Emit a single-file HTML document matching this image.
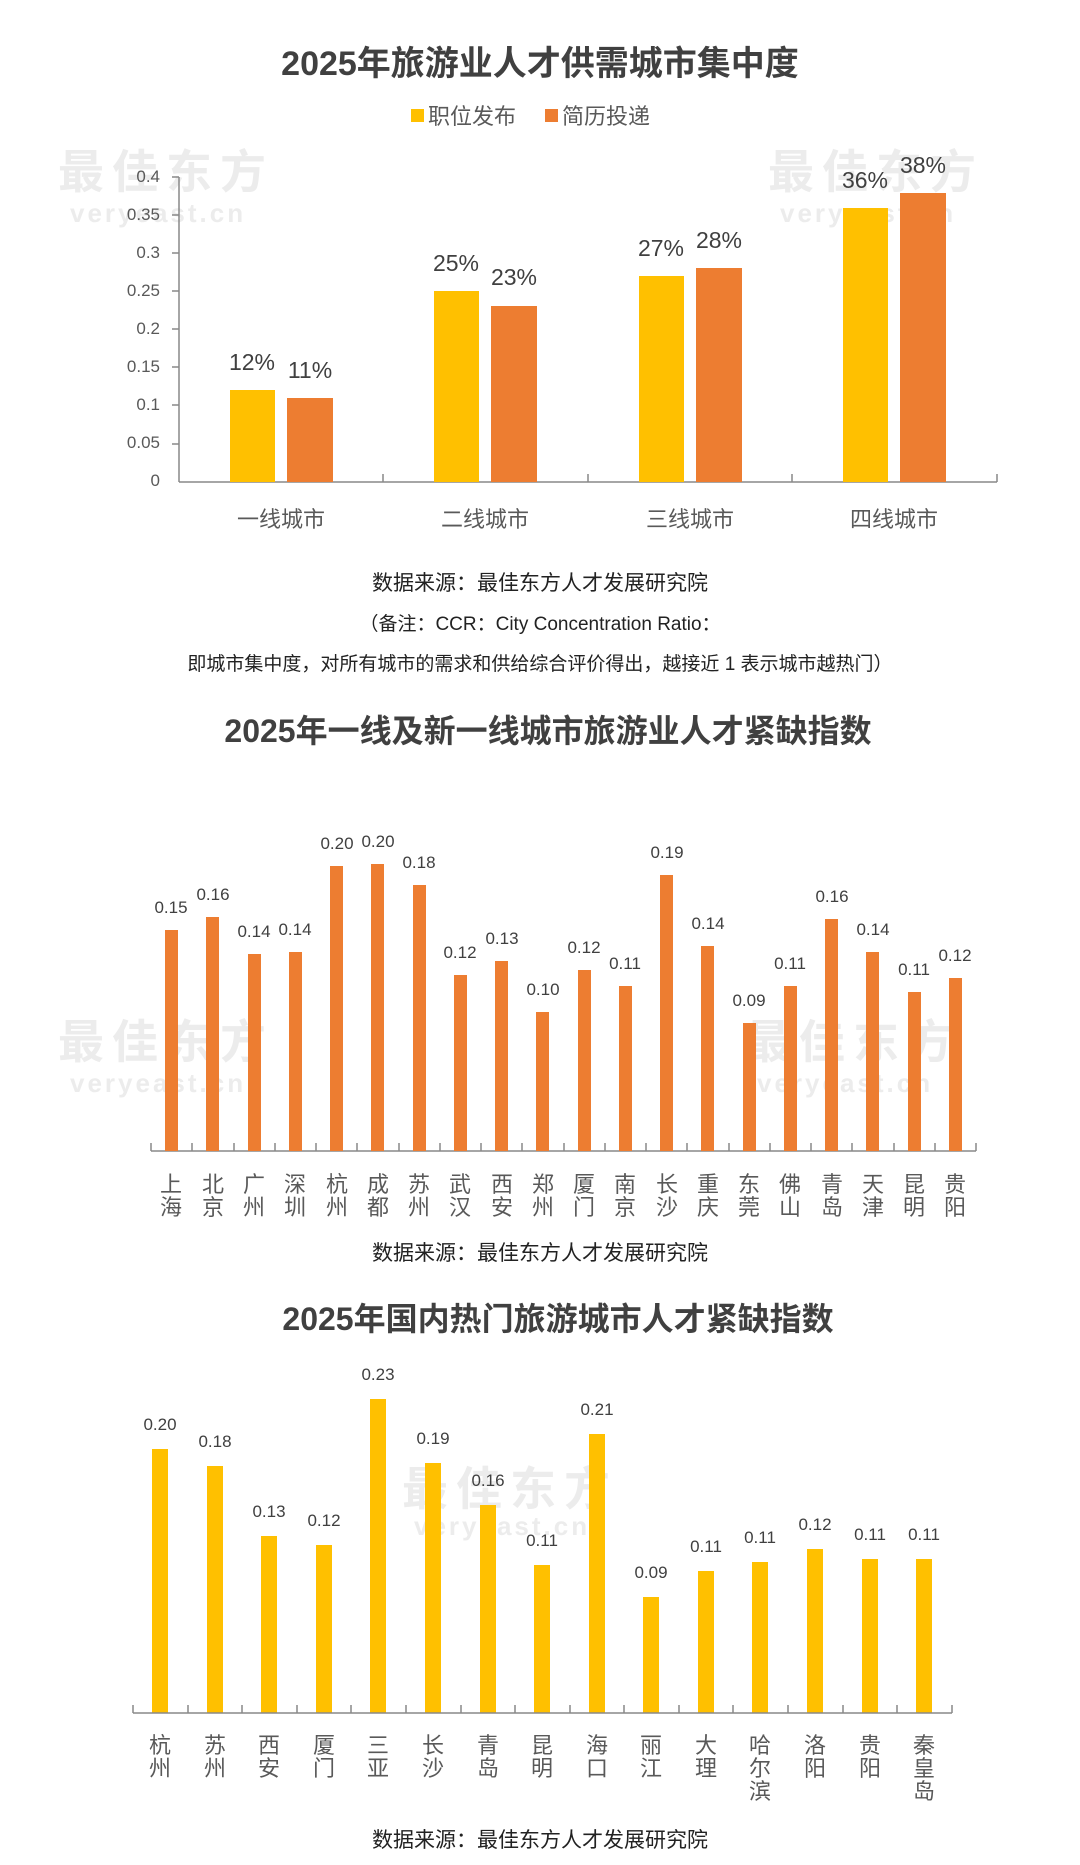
<!DOCTYPE html>
<html><head><meta charset="utf-8"><style>
html,body{margin:0;padding:0;background:#fff;}
svg{display:block;}
text{font-family:"Liberation Sans","Noto Sans CJK SC",sans-serif;}
</style></head><body>
<svg width="1080" height="1865" viewBox="0 0 1080 1865" xmlns="http://www.w3.org/2000/svg">
<!-- watermarks -->
<g fill="#ececec" font-weight="bold">
<text x="58" y="188" font-size="46" letter-spacing="8">最佳东方</text>
<text x="70" y="222" font-size="26" letter-spacing="3">veryeast.cn</text>
<text x="768" y="188" font-size="46" letter-spacing="8">最佳东方</text>
<text x="780" y="222" font-size="26" letter-spacing="3">veryeast.cn</text>
<text x="58" y="1058" font-size="46" letter-spacing="8">最佳东方</text>
<text x="70" y="1092" font-size="26" letter-spacing="3">veryeast.cn</text>
<text x="745" y="1058" font-size="46" letter-spacing="8">最佳东方</text>
<text x="757" y="1092" font-size="26" letter-spacing="3">veryeast.cn</text>
<text x="402" y="1505" font-size="46" letter-spacing="8">最佳东方</text>
<text x="414" y="1535" font-size="26" letter-spacing="3">veryeast.cn</text>
</g>

<!-- Chart 1 -->
<text x="540" y="75" text-anchor="middle" font-size="34" font-weight="bold" fill="#404040">2025年旅游业人才供需城市集中度</text>
<rect x="411" y="109" width="13" height="13" fill="#FFC000"/>
<text x="428" y="124" font-size="22" fill="#595959">职位发布</text>
<rect x="545" y="109" width="13" height="13" fill="#ED7D31"/>
<text x="562" y="124" font-size="22" fill="#595959">简历投递</text>
<g font-size="17" fill="#595959" text-anchor="end">
<text x="160" y="486">0</text><text x="160" y="448">0.05</text><text x="160" y="410">0.1</text>
<text x="160" y="372">0.15</text><text x="160" y="334">0.2</text><text x="160" y="296">0.25</text>
<text x="160" y="258">0.3</text><text x="160" y="220">0.35</text><text x="160" y="182">0.4</text>
</g>
<line x1="179" y1="177" x2="179" y2="482" stroke="#888" stroke-width="1.5"/>
<line x1="179" y1="482" x2="997" y2="482" stroke="#888" stroke-width="1.5"/>
<g stroke="#888" stroke-width="1.5">
<line x1="172" y1="177" x2="179" y2="177"/><line x1="172" y1="215" x2="179" y2="215"/><line x1="172" y1="253" x2="179" y2="253"/><line x1="172" y1="291" x2="179" y2="291"/><line x1="172" y1="329" x2="179" y2="329"/><line x1="172" y1="367" x2="179" y2="367"/><line x1="172" y1="405" x2="179" y2="405"/><line x1="172" y1="444" x2="179" y2="444"/>
<line x1="383" y1="482" x2="383" y2="474"/><line x1="588" y1="482" x2="588" y2="474"/><line x1="792" y1="482" x2="792" y2="474"/><line x1="997" y1="482" x2="997" y2="474"/>
</g>
<g>
<rect x="230" y="390" width="45" height="92" fill="#FFC000"/><rect x="287" y="398" width="46" height="84" fill="#ED7D31"/>
<rect x="434" y="291" width="45" height="191" fill="#FFC000"/><rect x="491" y="306" width="46" height="176" fill="#ED7D31"/>
<rect x="639" y="276" width="45" height="206" fill="#FFC000"/><rect x="696" y="268" width="46" height="214" fill="#ED7D31"/>
<rect x="843" y="208" width="45" height="274" fill="#FFC000"/><rect x="900" y="193" width="46" height="289" fill="#ED7D31"/>
</g>
<g font-size="23" fill="#404040" text-anchor="middle">
<text x="252" y="370">12%</text><text x="310" y="378">11%</text>
<text x="456" y="271">25%</text><text x="514" y="285">23%</text>
<text x="661" y="256">27%</text><text x="719" y="248">28%</text>
<text x="865" y="188">36%</text><text x="923" y="173">38%</text>
</g>
<g font-size="22" fill="#595959" text-anchor="middle">
<text x="281" y="527">一线城市</text><text x="485" y="527">二线城市</text><text x="690" y="527">三线城市</text><text x="894" y="527">四线城市</text>
</g>
<text x="540" y="590" text-anchor="middle" font-size="21" fill="#222">数据来源：最佳东方人才发展研究院</text>
<text x="540" y="630" text-anchor="middle" font-size="19" fill="#222">（备注：CCR：City Concentration Ratio：</text>
<text x="540" y="670" text-anchor="middle" font-size="19" fill="#222">即城市集中度，对所有城市的需求和供给综合评价得出，越接近 1 表示城市越热门）</text>

<!-- Chart 2 -->
<text x="548" y="742" text-anchor="middle" font-size="32" font-weight="bold" fill="#404040">2025年一线及新一线城市旅游业人才紧缺指数</text>
<line x1="151" y1="1151" x2="976" y2="1151" stroke="#888" stroke-width="1.5"/>
<g id="c2"></g>
<g fill="#ED7D31">
<rect x="165" y="930" width="13" height="221"/><rect x="206" y="917" width="13" height="234"/><rect x="248" y="954" width="13" height="197"/><rect x="289" y="952" width="13" height="199"/><rect x="330" y="866" width="13" height="285"/><rect x="371" y="864" width="13" height="287"/><rect x="413" y="885" width="13" height="266"/><rect x="454" y="975" width="13" height="176"/><rect x="495" y="961" width="13" height="190"/><rect x="536" y="1012" width="13" height="139"/><rect x="578" y="970" width="13" height="181"/><rect x="619" y="986" width="13" height="165"/><rect x="660" y="875" width="13" height="276"/><rect x="701" y="946" width="13" height="205"/><rect x="743" y="1023" width="13" height="128"/><rect x="784" y="986" width="13" height="165"/><rect x="825" y="919" width="13" height="232"/><rect x="866" y="952" width="13" height="199"/><rect x="908" y="992" width="13" height="159"/><rect x="949" y="978" width="13" height="173"/>
</g>
<g stroke="#888" stroke-width="1.5">
<line x1="151" y1="1151" x2="151" y2="1143"/><line x1="192" y1="1151" x2="192" y2="1143"/><line x1="234" y1="1151" x2="234" y2="1143"/><line x1="275" y1="1151" x2="275" y2="1143"/><line x1="316" y1="1151" x2="316" y2="1143"/><line x1="357" y1="1151" x2="357" y2="1143"/><line x1="399" y1="1151" x2="399" y2="1143"/><line x1="440" y1="1151" x2="440" y2="1143"/><line x1="481" y1="1151" x2="481" y2="1143"/><line x1="522" y1="1151" x2="522" y2="1143"/><line x1="564" y1="1151" x2="564" y2="1143"/><line x1="605" y1="1151" x2="605" y2="1143"/><line x1="646" y1="1151" x2="646" y2="1143"/><line x1="687" y1="1151" x2="687" y2="1143"/><line x1="729" y1="1151" x2="729" y2="1143"/><line x1="770" y1="1151" x2="770" y2="1143"/><line x1="811" y1="1151" x2="811" y2="1143"/><line x1="852" y1="1151" x2="852" y2="1143"/><line x1="894" y1="1151" x2="894" y2="1143"/><line x1="935" y1="1151" x2="935" y2="1143"/><line x1="976" y1="1151" x2="976" y2="1143"/>
</g>
<g font-size="17" fill="#404040" text-anchor="middle">
<text x="171" y="913">0.15</text><text x="213" y="900">0.16</text><text x="254" y="937">0.14</text><text x="295" y="935">0.14</text><text x="337" y="849">0.20</text><text x="378" y="847">0.20</text><text x="419" y="868">0.18</text><text x="460" y="958">0.12</text><text x="502" y="944">0.13</text><text x="543" y="995">0.10</text><text x="584" y="953">0.12</text><text x="625" y="969">0.11</text><text x="667" y="858">0.19</text><text x="708" y="929">0.14</text><text x="749" y="1006">0.09</text><text x="790" y="969">0.11</text><text x="832" y="902">0.16</text><text x="873" y="935">0.14</text><text x="914" y="975">0.11</text><text x="955" y="961">0.12</text>
</g>
<g font-size="22" fill="#595959" text-anchor="middle">
<text x="171" y="1192">上</text><text x="171" y="1215">海</text>
<text x="213" y="1192">北</text><text x="213" y="1215">京</text>
<text x="254" y="1192">广</text><text x="254" y="1215">州</text>
<text x="295" y="1192">深</text><text x="295" y="1215">圳</text>
<text x="337" y="1192">杭</text><text x="337" y="1215">州</text>
<text x="378" y="1192">成</text><text x="378" y="1215">都</text>
<text x="419" y="1192">苏</text><text x="419" y="1215">州</text>
<text x="460" y="1192">武</text><text x="460" y="1215">汉</text>
<text x="502" y="1192">西</text><text x="502" y="1215">安</text>
<text x="543" y="1192">郑</text><text x="543" y="1215">州</text>
<text x="584" y="1192">厦</text><text x="584" y="1215">门</text>
<text x="625" y="1192">南</text><text x="625" y="1215">京</text>
<text x="667" y="1192">长</text><text x="667" y="1215">沙</text>
<text x="708" y="1192">重</text><text x="708" y="1215">庆</text>
<text x="749" y="1192">东</text><text x="749" y="1215">莞</text>
<text x="790" y="1192">佛</text><text x="790" y="1215">山</text>
<text x="832" y="1192">青</text><text x="832" y="1215">岛</text>
<text x="873" y="1192">天</text><text x="873" y="1215">津</text>
<text x="914" y="1192">昆</text><text x="914" y="1215">明</text>
<text x="955" y="1192">贵</text><text x="955" y="1215">阳</text>
</g>
<text x="540" y="1260" text-anchor="middle" font-size="21" fill="#222">数据来源：最佳东方人才发展研究院</text>

<!-- Chart 3 -->
<text x="558" y="1330" text-anchor="middle" font-size="32" font-weight="bold" fill="#404040">2025年国内热门旅游城市人才紧缺指数</text>
<g fill="#FFC000">
<rect x="152" y="1449" width="16" height="264"/><rect x="207" y="1466" width="16" height="247"/><rect x="261" y="1536" width="16" height="177"/><rect x="316" y="1545" width="16" height="168"/><rect x="370" y="1399" width="16" height="314"/><rect x="425" y="1463" width="16" height="250"/><rect x="480" y="1505" width="16" height="208"/><rect x="534" y="1565" width="16" height="148"/><rect x="589" y="1434" width="16" height="279"/><rect x="643" y="1597" width="16" height="116"/><rect x="698" y="1571" width="16" height="142"/><rect x="752" y="1562" width="16" height="151"/><rect x="807" y="1549" width="16" height="164"/><rect x="862" y="1559" width="16" height="154"/><rect x="916" y="1559" width="16" height="154"/>
</g>
<line x1="133" y1="1713" x2="952" y2="1713" stroke="#888" stroke-width="1.5"/>
<g stroke="#888" stroke-width="1.5">
<line x1="133" y1="1713" x2="133" y2="1705"/><line x1="188" y1="1713" x2="188" y2="1705"/><line x1="242" y1="1713" x2="242" y2="1705"/><line x1="297" y1="1713" x2="297" y2="1705"/><line x1="351" y1="1713" x2="351" y2="1705"/><line x1="406" y1="1713" x2="406" y2="1705"/><line x1="461" y1="1713" x2="461" y2="1705"/><line x1="515" y1="1713" x2="515" y2="1705"/><line x1="570" y1="1713" x2="570" y2="1705"/><line x1="624" y1="1713" x2="624" y2="1705"/><line x1="679" y1="1713" x2="679" y2="1705"/><line x1="733" y1="1713" x2="733" y2="1705"/><line x1="788" y1="1713" x2="788" y2="1705"/><line x1="843" y1="1713" x2="843" y2="1705"/><line x1="897" y1="1713" x2="897" y2="1705"/><line x1="952" y1="1713" x2="952" y2="1705"/>
</g>
<g font-size="17" fill="#404040" text-anchor="middle">
<text x="160" y="1430">0.20</text><text x="215" y="1447">0.18</text><text x="269" y="1517">0.13</text><text x="324" y="1526">0.12</text><text x="378" y="1380">0.23</text><text x="433" y="1444">0.19</text><text x="488" y="1486">0.16</text><text x="542" y="1546">0.11</text><text x="597" y="1415">0.21</text><text x="651" y="1578">0.09</text><text x="706" y="1552">0.11</text><text x="760" y="1543">0.11</text><text x="815" y="1530">0.12</text><text x="870" y="1540">0.11</text><text x="924" y="1540">0.11</text>
</g>
<g font-size="22" fill="#595959" text-anchor="middle">
<text x="160" y="1753">杭</text><text x="160" y="1776">州</text>
<text x="215" y="1753">苏</text><text x="215" y="1776">州</text>
<text x="269" y="1753">西</text><text x="269" y="1776">安</text>
<text x="324" y="1753">厦</text><text x="324" y="1776">门</text>
<text x="378" y="1753">三</text><text x="378" y="1776">亚</text>
<text x="433" y="1753">长</text><text x="433" y="1776">沙</text>
<text x="488" y="1753">青</text><text x="488" y="1776">岛</text>
<text x="542" y="1753">昆</text><text x="542" y="1776">明</text>
<text x="597" y="1753">海</text><text x="597" y="1776">口</text>
<text x="651" y="1753">丽</text><text x="651" y="1776">江</text>
<text x="706" y="1753">大</text><text x="706" y="1776">理</text>
<text x="760" y="1753">哈</text><text x="760" y="1776">尔</text><text x="760" y="1799">滨</text>
<text x="815" y="1753">洛</text><text x="815" y="1776">阳</text>
<text x="870" y="1753">贵</text><text x="870" y="1776">阳</text>
<text x="924" y="1753">秦</text><text x="924" y="1776">皇</text><text x="924" y="1799">岛</text>
</g>
<text x="540" y="1847" text-anchor="middle" font-size="21" fill="#222">数据来源：最佳东方人才发展研究院</text>
</svg>
</body></html>
